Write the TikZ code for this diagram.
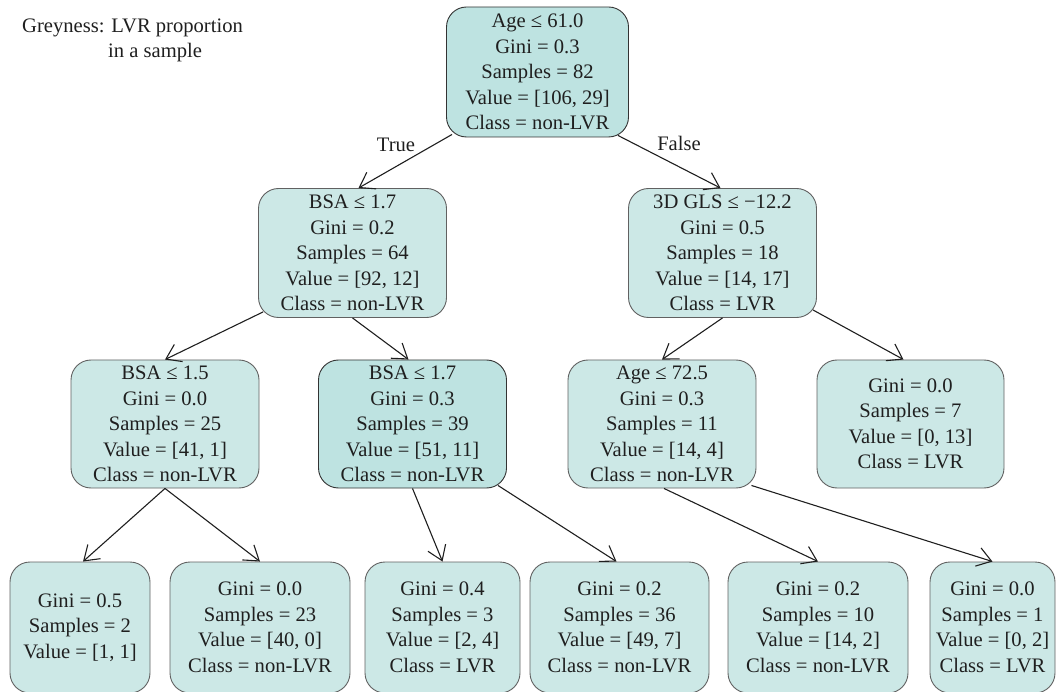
\documentclass[tikz,border=0pt]{standalone}
\usepackage{fontspec}
\setmainfont{Liberation Serif}
\usetikzlibrary{arrows.meta,calc}
\definecolor{lightfill}{HTML}{CCE8E6}
\definecolor{darkfill}{HTML}{BEE3E1}
\begin{document}
\begin{tikzpicture}[x=1pt,y=-1pt,
  box/.style={rectangle, rounded corners=20pt, draw=black!62, line width=0.9pt,
    fill=lightfill, align=center, inner sep=0pt,
    font=\fontsize{20.6}{25.5}\selectfont, text=black!88},
  darkbox/.style={box, fill=darkfill, draw=black!80},
  midbox/.style={minimum width=188pt, minimum height=129pt},
  leafbox/.style={minimum height=131pt},
  edge/.style={draw=black!88, line width=1.1pt, -{Straight Barb[length=14pt,width=19pt]}},
  lbl/.style={font=\fontsize{20.6}{25}\selectfont, inner sep=0pt, text=black!88}]
\useasboundingbox (0,0) rectangle (1060,692);

% title
\node[lbl, anchor=base west] (title) at (22,33) {Greyness: LVR proportion};
\node[lbl, anchor=base west] (title2) at (108,58) {in a sample};

% level 1
\node[darkbox, minimum width=182pt, minimum height=130pt] (root) at (537.5,72)
  {Age ≤ 61.0\\Gini = 0.3\\Samples = 82\\Value = [106, 29]\\Class = non-LVR};

% level 2
\node[box, midbox] (L2L) at (352.5,253)
  {BSA ≤ 1.7\\Gini = 0.2\\Samples = 64\\Value = [92, 12]\\Class = non-LVR};
\node[box, midbox] (L2R) at (722.5,253)
  {3D GLS ≤ −12.2\\Gini = 0.5\\Samples = 18\\Value = [14, 17]\\Class = LVR};

% level 3
\node[box, midbox, minimum height=128pt] (L3a) at (165,424)
  {BSA ≤ 1.5\\Gini = 0.0\\Samples = 25\\Value = [41, 1]\\Class = non-LVR};
\node[darkbox, midbox, minimum height=128pt] (L3b) at (412.5,424)
  {BSA ≤ 1.7\\Gini = 0.3\\Samples = 39\\Value = [51, 11]\\Class = non-LVR};
\node[box, midbox, minimum height=128pt] (L3c) at (662,424)
  {Age ≤ 72.5\\Gini = 0.3\\Samples = 11\\Value = [14, 4]\\Class = non-LVR};
\node[box, midbox, minimum width=187pt, minimum height=128pt] (L3d) at (910.5,424)
  {Gini = 0.0\\Samples = 7\\Value = [0, 13]\\Class = LVR};

% level 4
\node[box, leafbox, minimum width=140pt] (leaf1) at (80,627.5)
  {Gini = 0.5\\Samples = 2\\Value = [1, 1]};
\node[box, leafbox, minimum width=180pt] (leaf2) at (260,627.5)
  {Gini = 0.0\\Samples = 23\\Value = [40, 0]\\Class = non-LVR};
\node[box, leafbox, minimum width=155pt] (leaf3) at (442.5,627.5)
  {Gini = 0.4\\Samples = 3\\Value = [2, 4]\\Class = LVR};
\node[box, leafbox, minimum width=179pt] (leaf4) at (619.5,627.5)
  {Gini = 0.2\\Samples = 36\\Value = [49, 7]\\Class = non-LVR};
\node[box, leafbox, minimum width=180pt] (leaf5) at (818,627.5)
  {Gini = 0.2\\Samples = 10\\Value = [14, 2]\\Class = non-LVR};
\node[box, leafbox, minimum width=125pt] (leaf6) at (992.5,627.5)
  {Gini = 0.0\\Samples = 1\\Value = [0, 2]\\Class = LVR};

% edges
\draw[edge] ([shift={(6,-3)}]root.south west) -- ([xshift=6pt]L2L.north);
\draw[edge] ([shift={(-11,-2)}]root.south east) -- ([xshift=-2pt]L2R.north);
\draw[edge] ([shift={(5,-6)}]L2L.south west) -- (L3a.north);
\draw[edge] (L2L.south) -- ([xshift=-4pt]L3b.north);
\draw[edge] (L2R.south) -- (L3c.north);
\draw[edge] ([shift={(-4,-8)}]L2R.south east) -- ([xshift=-7pt]L3d.north);
\draw[edge] (L3a.south) -- ([xshift=3pt]leaf1.north);
\draw[edge] (L3a.south) -- (leaf2.north);
\draw[edge] (L3b.south) -- (leaf3.north);
\draw[edge] ([shift={(-9,-3)}]L3b.south east) -- ([xshift=-3pt]leaf4.north);
\draw[edge] ([xshift=2pt]L3c.south) -- (leaf5.north);
\draw[edge] ([shift={(-5,-3)}]L3c.south east) -- (leaf6.north);

% edge labels
\node[lbl] (true) at (396,145) {True};
\node[lbl] (false) at (679,143) {False};
\end{tikzpicture}
\end{document}
